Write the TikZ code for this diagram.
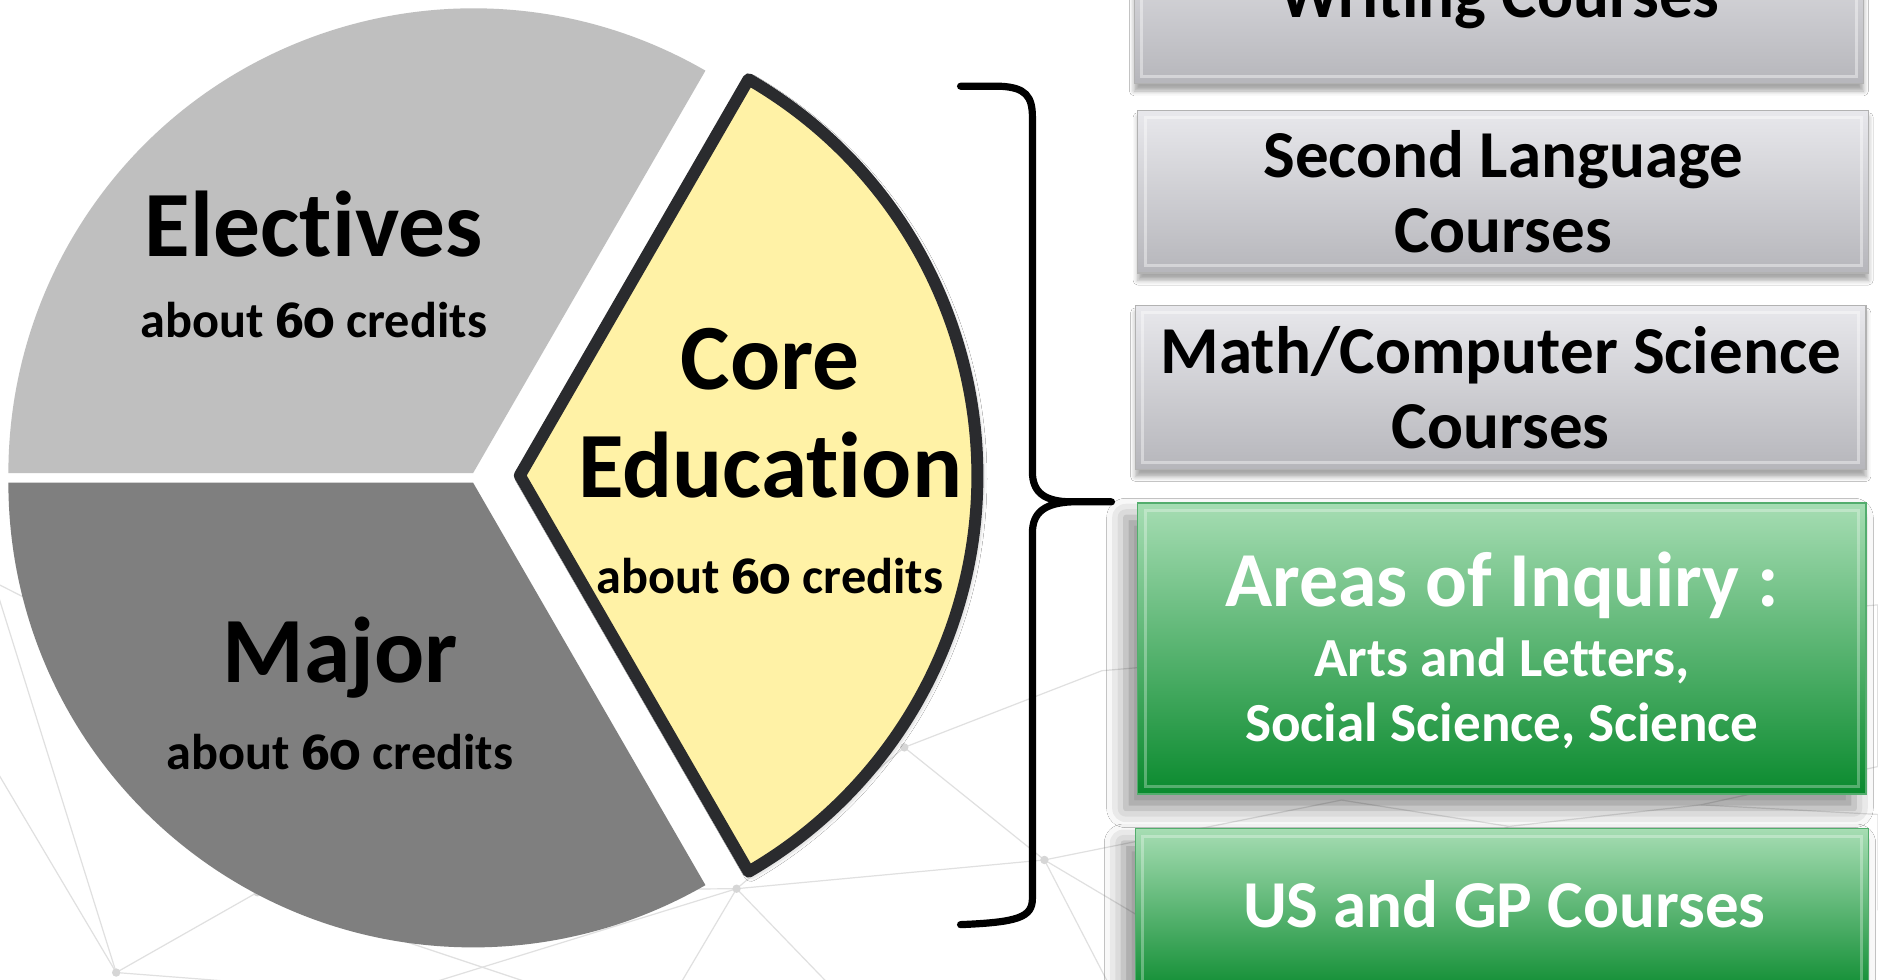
\documentclass[tikz,border=0pt]{standalone}
\usepackage{fontspec}
\setmainfont{Carlito}[Ligatures=NoCommon]
\newfontfamily\onumfont{Fira Sans}[Numbers=OldStyle]
\usetikzlibrary{shadows.blur}
\definecolor{elec}{HTML}{BFBFBF}
\definecolor{major}{HTML}{7F7F7F}
\definecolor{corefill}{HTML}{FFF2A6}
\definecolor{coreline}{HTML}{2A2B2E}
\definecolor{gtop}{HTML}{E8E8EC}
\definecolor{gmid}{HTML}{CFCFD3}
\definecolor{gbot}{HTML}{B6B6BB}
\definecolor{ntop}{HTML}{A6DDB3}
\definecolor{nmid}{HTML}{5DB171}
\definecolor{nbot}{HTML}{0A8A2E}
\definecolor{netc}{HTML}{E0E0E0}
\newcommand{\sixty}{{\onumfont\bfseries 60}}
\tikzset{
  bigtxt/.style={font=\bfseries\fontsize{78}{84}\selectfont, align=center},
  smalltxt/.style={font=\bfseries\fontsize{42}{46}\selectfont, align=center},
  boxtxt/.style={font=\bfseries\fontsize{56}{63}\selectfont, align=center},
  greybox/.style={draw=gray!60, line width=1pt, top color=gtop, middle color=gmid, bottom color=gbot,
    blur shadow={shadow xshift=0pt, shadow yshift=-6pt, shadow blur radius=4pt, shadow opacity=35},
    path picture={\draw[white, opacity=.4, line width=2.5pt]
      ([xshift=6pt,yshift=-6pt]path picture bounding box.north west) rectangle
      ([xshift=-6pt,yshift=6pt]path picture bounding box.south east);}},
  greenbox/.style={draw=nbot!70!white, line width=1pt, top color=ntop, middle color=nmid, bottom color=nbot,
    text=white,
    blur shadow={shadow xshift=-10pt, shadow yshift=-12pt, shadow blur radius=16pt, shadow opacity=45},
    path picture={\draw[white, opacity=.3, line width=2.5pt]
      ([xshift=6pt,yshift=-6pt]path picture bounding box.north west) rectangle
      ([xshift=-6pt,yshift=6pt]path picture bounding box.south east);}},
  netline/.style={draw=netc, line width=1pt},
  netdot/.style={fill=netc!90!gray, circle, inner sep=0pt, minimum size=7pt}
}
\begin{document}
\begin{tikzpicture}[x=1pt,y=-1pt]
\useasboundingbox (0,0) rectangle (1568,818);
\clip (0,0) rectangle (1568,818);
\fill[white] (0,0) rectangle (1568,818);

% background network
\coordinate (p1) at (-5,486);
\coordinate (p2) at (97,812);
\coordinate (p3) at (215,745);
\coordinate (p4) at (330,830);
\coordinate (p5) at (470,830);
\coordinate (p6) at (615,742);
\coordinate (p7) at (755,624);
\coordinate (p8) at (872,718);
\coordinate (p9) at (930,830);
\coordinate (p10) at (1010,800);
\coordinate (p11) at (1120,668);
\coordinate (p12) at (1260,690);
\coordinate (p13) at (1420,672);
\coordinate (p14) at (1568,640);
\coordinate (p15) at (1568,505);
\coordinate (p16) at (-5,640);
\coordinate (p17) at (560,835);
\coordinate (p18) at (700,830);
\coordinate (p19) at (1568,760);
\coordinate (p20) at (920,560);
\coordinate (p21) at (1568,680);
\draw[netline] (p1) -- (p2) -- (p3) -- (p6) -- (p8) -- (p7) -- (p6);
\draw[netline] (p1) -- (70,524);
\draw[netline] (p16) -- (p2) -- (p4);
\draw[netline] (p3) -- (p5);
\draw[netline] (p6) -- (p17);
\draw[netline] (p6) -- (p18);
\draw[netline] (p6) -- (p4);
\draw[netline] (p8) -- (p9);
\draw[netline] (p8) -- (p10);
\draw[netline] (p8) -- (p11);
\draw[netline] (p7) -- (p20) -- (p15);
\draw[netline] (p11) -- (p12) -- (p13) -- (p14);
\draw[netline] (p12) -- (p10);
\draw[netline] (p13) -- (p21) -- (p19);
\draw[netline] (p15) -- (p14);
\foreach \p in {p2,p3,p6,p7,p8}
  \node[netdot] at (\p) {};

% pie slices
\fill[elec] (395,395) -- ++(-60:388) arc[start angle=-60, end angle=-180, radius=388] -- cycle;
\fill[major] (395,403) -- ++(180:388) arc[start angle=180, end angle=60, radius=388] -- cycle;
\filldraw[fill=corefill, draw=coreline, line width=10pt, line join=round,
  blur shadow={shadow xshift=2pt, shadow yshift=-2pt, shadow blur radius=6pt, shadow opacity=45}]
  (434,397) -- ++(-60:382) arc[start angle=-60, end angle=60, radius=382] -- cycle;

\node[bigtxt] (electives) at (262,187) {Electives};
\node[smalltxt] (elecc) at (262,267) {about \sixty{} credits};
\node[bigtxt] (major) at (284,549) {Major};
\node[smalltxt] (majorc) at (284,628) {about \sixty{} credits};
\node[bigtxt] (core) at (643,300) {Core};
\node[bigtxt] (edu) at (643,388) {Education};
\node[smalltxt] (corec) at (643,481) {about \sixty{} credits};

% brace
\draw[line width=6pt, line cap=round, line join=round]
  (802,72) -- (835,72) .. controls (856,73) and (862,80) .. (862,98)
  -- (862,394) .. controls (862,411) and (872,419) .. (895,419) -- (928,419)
  -- (895,419) .. controls (872,420) and (862,428) .. (862,445)
  -- (862,750) .. controls (862,766) and (850,770) .. (802,772);

% boxes
\node[greybox, minimum width=609pt, minimum height=140pt] (writing) at (1251.5,0) {};
\node[boxtxt] (writingt) at (1252,0) {Writing Courses};
\node[greybox, minimum width=610pt, minimum height=136pt, boxtxt] (second) at (1255,160) {Second Language\\Courses};
\node[greybox, minimum width=610pt, minimum height=137pt, boxtxt] (math) at (1253,323.5) {Math/Computer Science\\Courses};
\node[greenbox, minimum width=608pt, minimum height=243pt] (areas) at (1254,541.5) {};
\node[text=white, font=\bfseries\fontsize{65}{68}\selectfont] (areast) at (1254,489) {Areas of Inquiry :};
\node[text=white, font=\bfseries\fontsize{46}{54}\selectfont, align=center] (areass) at (1254,579) {Arts and Letters,\\Social Science, Science};
\node[greenbox, minimum width=612pt, minimum height=140pt] (usgp) at (1254,762) {};
\node[text=white, boxtxt] (usgpt) at (1256,755) {US and GP Courses};
\end{tikzpicture}
\end{document}
